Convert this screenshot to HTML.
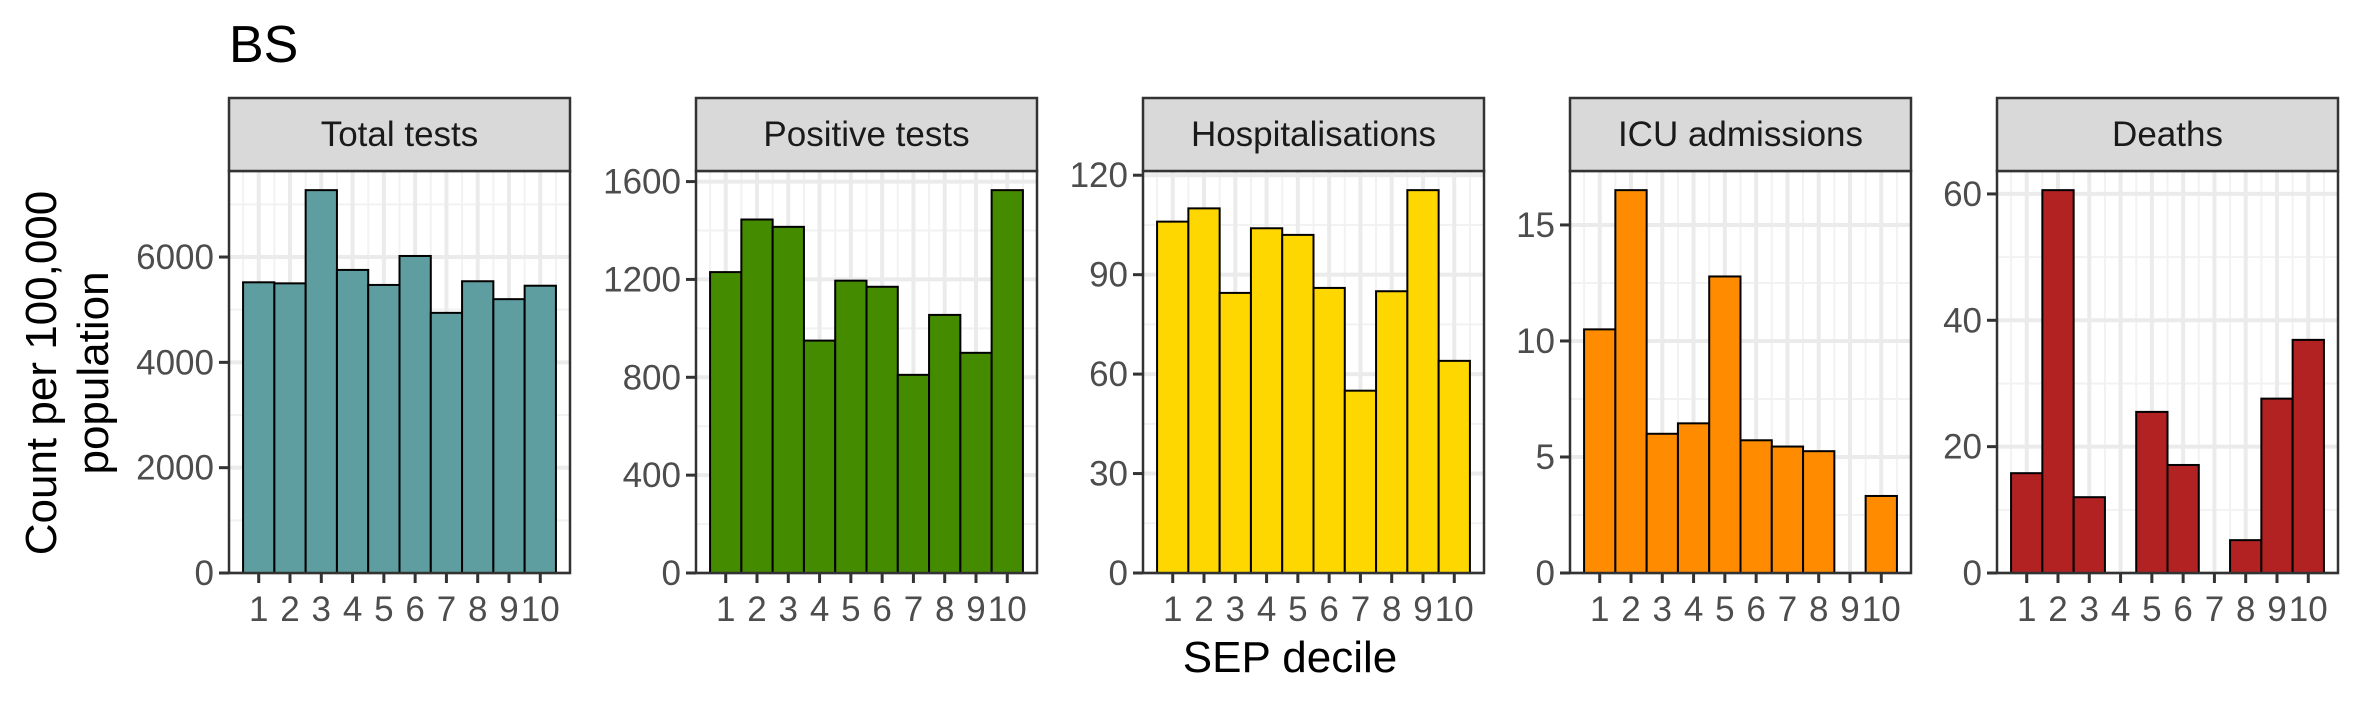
<!DOCTYPE html>
<html><head><meta charset="utf-8"><style>
html,body{margin:0;padding:0;background:#fff;}
svg{display:block;font-family:"Liberation Sans",Arial,sans-serif;}
</style></head><body>
<svg id="chart" width="2362" height="708" viewBox="0 0 2362 708" xmlns="http://www.w3.org/2000/svg">
<text x="229" y="62" font-size="52" fill="#000">BS</text>
<g font-size="44" fill="#000" text-anchor="middle">
<text transform="translate(56,373) rotate(-90)">Count per 100,000</text>
<text transform="translate(108,373) rotate(-90)">population</text>
</g>
<text x="1290" y="672" font-size="44" text-anchor="middle" fill="#000">SEP decile</text>
</svg>
<script>
const categories = [1,2,3,4,5,6,7,8,9,10];
const panelTitles = ["Total tests","Positive tests","Hospitalisations","ICU admissions","Deaths"];
const totalTests = [5520,5500,7270,5755,5470,6020,4940,5540,5200,5455];
const positiveTests = [1230,1445,1415,950,1195,1170,810,1055,900,1565];
const hospitalisations = [106,110,84.5,104,102,86,55,85,115.5,64];
const icuAdmissions = [10.5,16.5,6.0,6.45,12.78,5.72,5.45,5.25,0,3.32];
const deaths = [15.8,60.6,12.0,0,25.5,17.1,0,5.2,27.6,36.9];
const yTicksTotal = [0,2000,4000,6000];
const yTicksPositive = [0,400,800,1200,1600];
const yTicksHosp = [0,30,60,90,120];
const yTicksIcu = [0,5,10,15];
const yTicksDeaths = [0,20,40,60];

(function(){
const series = [totalTests,positiveTests,hospitalisations,icuAdmissions,deaths];
const ticks = [yTicksTotal,yTicksPositive,yTicksHosp,yTicksIcu,yTicksDeaths];
const fills = ["#5F9EA0","#458B00","#FFD700","#FF8C00","#B22222"];
const names = ["total-tests","positive-tests","hospitalisations","icu-admissions","deaths"];
const lefts = [229,696,1143,1570,1997];
const W = 341, plotTop = 171, plotBottom = 573, stripTop = 98;
const svg = document.getElementById('chart');
const NS = "http://www.w3.org/2000/svg";
function mk(tag, attrs, parent){const e=document.createElementNS(NS,tag);for(const k in attrs)e.setAttribute(k,attrs[k]);parent.appendChild(e);return e;}

series.forEach((vals,p)=>{
  const L = lefts[p], R = L+W;
  const g = mk('g',{},svg);
  
  
  const maxV = Math.max(...vals);
  const yMax = maxV*1.05;
  const y = v => plotBottom - v/yMax*(plotBottom-plotTop);
  const x0 = 0.05, x1 = 10.95;
  const x = v => L + (v-x0)/(x1-x0)*W;
  mk('rect',{x:L,y:plotTop,width:W,height:plotBottom-plotTop,fill:'#fff'},g);
  const tk = ticks[p]; const step = tk[1]-tk[0];
  for(let v=step/2; v<yMax; v+=step){ mk('line',{x1:L,x2:R,y1:y(v),y2:y(v),stroke:'#f2f2f2','stroke-width':2},g); }
  for(let v=0.5; v<=10.5; v+=1){ mk('line',{x1:x(v),x2:x(v),y1:plotTop,y2:plotBottom,stroke:'#f2f2f2','stroke-width':2},g); }
  tk.forEach(v=>{ mk('line',{x1:L,x2:R,y1:y(v),y2:y(v),stroke:'#ebebeb','stroke-width':4},g); });
  categories.forEach(c=>{ mk('line',{x1:x(c),x2:x(c),y1:plotTop,y2:plotBottom,stroke:'#ebebeb','stroke-width':4},g); });
  vals.forEach((v,i)=>{
    if(v<=0) return;
    const c = categories[i];
    const b = mk('rect',{x:x(c-0.5),y:y(v),width:x(c+0.5)-x(c-0.5),height:plotBottom-y(v),fill:fills[p],stroke:'#000','stroke-width':2},g);
    
    
  });
  mk('rect',{x:L,y:plotTop,width:W,height:plotBottom-plotTop,fill:'none',stroke:'#333','stroke-width':2.5},g);
  const s = mk('rect',{x:L,y:stripTop,width:W,height:plotTop-stripTop,fill:'#d9d9d9',stroke:'#333','stroke-width':2.5},g);
  
  
  const st = mk('text',{x:L+W/2,y:146,'font-size':35,'text-anchor':'middle',fill:'#1a1a1a'},g);
  st.textContent = panelTitles[p];
  tk.forEach(v=>{
    mk('line',{x1:L-10,x2:L,y1:y(v),y2:y(v),stroke:'#333','stroke-width':3},g);
    const t = mk('text',{x:L-15,y:y(v)+12,'font-size':35,'text-anchor':'end',fill:'#4d4d4d'},g);
    
    
    t.textContent = v;
  });
  categories.forEach(c=>{
    mk('line',{x1:x(c),x2:x(c),y1:plotBottom,y2:plotBottom+10,stroke:'#333','stroke-width':3},g);
    const t = mk('text',{x:x(c),y:621,'font-size':35,'text-anchor':'middle',fill:'#4d4d4d'},g);
    
    
    t.textContent = c;
  });
});
})();
</script>
</body></html>
